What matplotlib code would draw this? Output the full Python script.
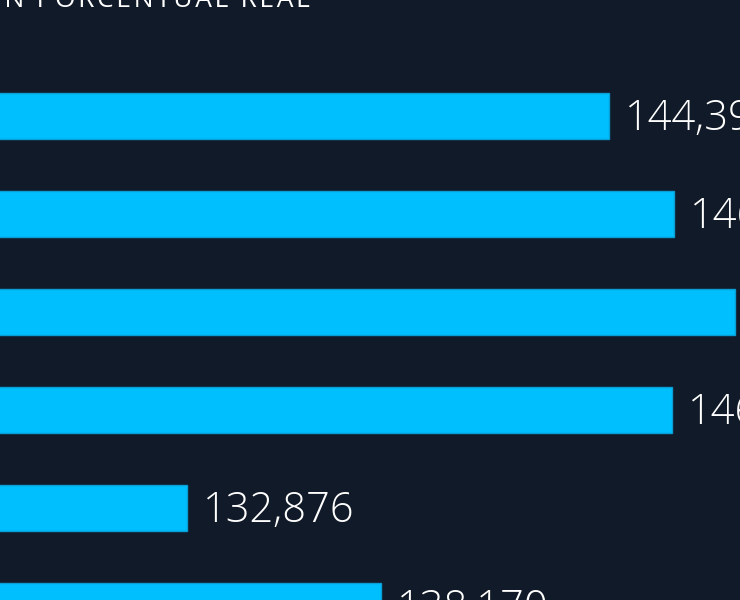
import matplotlib
matplotlib.use("Agg")
import matplotlib.pyplot as plt

# Data (visible portion of the chart)
categories = ["A", "B", "C", "D", "E", "F"]
values = [144392, 146166, 147830, 146111, 132876, 138170]
labels = ["144,392", "146,166", "147,830", "146,111", "132,876", "138,170"]
title_text = "VARIACIÓN PORCENTUAL REAL"

BG = "#111a28"
BAR = "#00bfff"

fig = plt.figure(figsize=(7.4, 6.0), dpi=100, facecolor=BG)
ax = fig.add_axes([0, 0, 1, 1], facecolor=BG)

pos = list(range(len(categories)))
ax.barh(pos, values, height=0.47, color=BAR, edgecolor="#0a9fd4", linewidth=1.0)

for p, v, lab in zip(pos, values, labels):
    ax.annotate(lab, (v, p), xytext=(11, -2), textcoords="offset points",
                va="center", ha="left", color="white", fontsize=30,
                family=["Open Sans", "DejaVu Sans"], fontweight="light",
                annotation_clip=False)

ax.set_xlim(127760, 147955)
ax.set_ylim(4.94, -1.184)
ax.axis("off")

# letter-spaced title (tracking via hair spaces)
tracked = "\u200a".join(title_text)
fig.text(310 / 740, 1 - 7 / 600, tracked, ha="right", va="baseline",
         color="white", fontsize=19, family=["Open Sans", "DejaVu Sans"],
         fontweight="normal")

fig.savefig("out.png", dpi=100, facecolor=BG)
